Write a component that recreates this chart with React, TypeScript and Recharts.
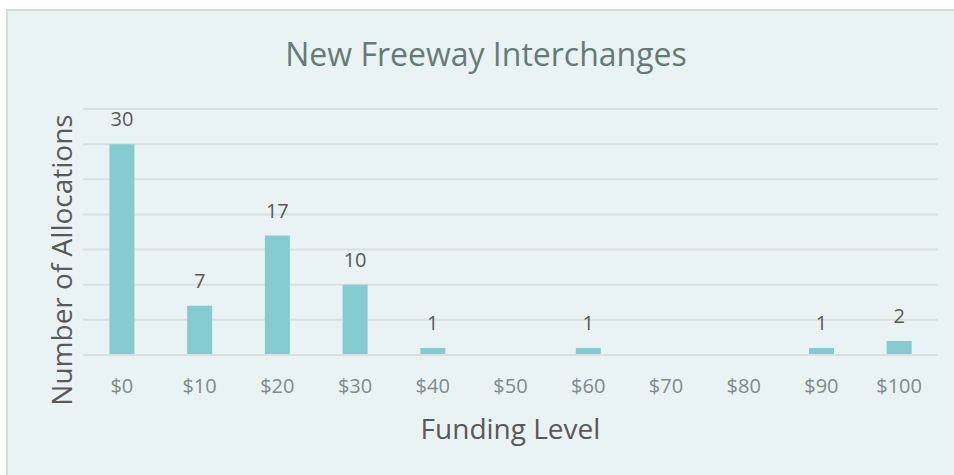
import { BarChart, Bar, XAxis, YAxis, CartesianGrid, LabelList, Label } from "recharts";

const fundingLevels = ["$0", "$10", "$20", "$30", "$40", "$50", "$60", "$70", "$80", "$90", "$100"];
const allocations = [30, 7, 17, 10, 1, 0, 1, 0, 0, 1, 2];
const yTicks = [0, 5, 10, 15, 20, 25, 30, 35];

const data = fundingLevels.map((level, i) => ({ level, count: allocations[i] }));

const FONT = "'Open Sans', sans-serif";

// skip labels for empty bins
const renderValue = (props: any) => {
  const { x, y, width, value } = props;
  if (!value) return null;
  return (
    <text x={x + width / 2} y={y - 18} textAnchor="middle" fill="#595959" fontSize={20} fontFamily={FONT}>
      {value}
    </text>
  );
};

export default function App() {
  return (
    <div style={{ position: "absolute", left: 0, top: 0, width: 954, height: 475, background: "#fff", overflow: "hidden" }}>
      <div
        style={{
          position: "absolute",
          left: 6,
          top: 9,
          width: 960,
          height: 480,
          background: "#EAF3F4",
          borderTop: "2px solid #D6DEDE",
          borderLeft: "2px solid #D6DEDE",
        }}
      />
      <div
        style={{
          position: "absolute",
          left: 0,
          top: 32,
          width: 972,
          textAlign: "center",
          fontFamily: FONT,
          fontSize: 32,
          color: "#657B78",
        }}
      >
        New Freeway Interchanges
      </div>
      <div style={{ position: "absolute", left: 0, top: 0 }}>
        <BarChart width={954} height={475} data={data} margin={{ top: 109, right: 16, bottom: 80, left: 23 }} barCategoryGap="34%">
          <CartesianGrid vertical={false} stroke="#D8E0E0" strokeWidth={2} />
          <YAxis
            width={60}
            domain={[0, 35]}
            ticks={yTicks}
            interval={0}
            tick={{ fontSize: 0 }}
            tickFormatter={() => ""}
            axisLine={false}
            tickLine={false}
          >
            <Label
              value="Number of Allocations"
              angle={-90}
              position="insideLeft"
              offset={39}
              dy={28}
              style={{ textAnchor: "middle", fontFamily: FONT, fontSize: 28, fill: "#595959" }}
            />
          </YAxis>
          <XAxis
            dataKey="level"
            height={40}
            axisLine={{ stroke: "#D8E0E0", strokeWidth: 2 }}
            tickLine={false}
            tickSize={0}
            tickMargin={24}
            tick={{ fontFamily: FONT, fontSize: 20, fill: "#7E8B8B" }}
            interval={0}
          >
            <Label
              value="Funding Level"
              position="bottom"
              offset={24}
              style={{ fontFamily: FONT, fontSize: 28, fill: "#595959" }}
            />
          </XAxis>
          <Bar dataKey="count" fill="#85CBCF" isAnimationActive={false}>
            <LabelList dataKey="count" content={renderValue} />
          </Bar>
        </BarChart>
      </div>
    </div>
  );
}
